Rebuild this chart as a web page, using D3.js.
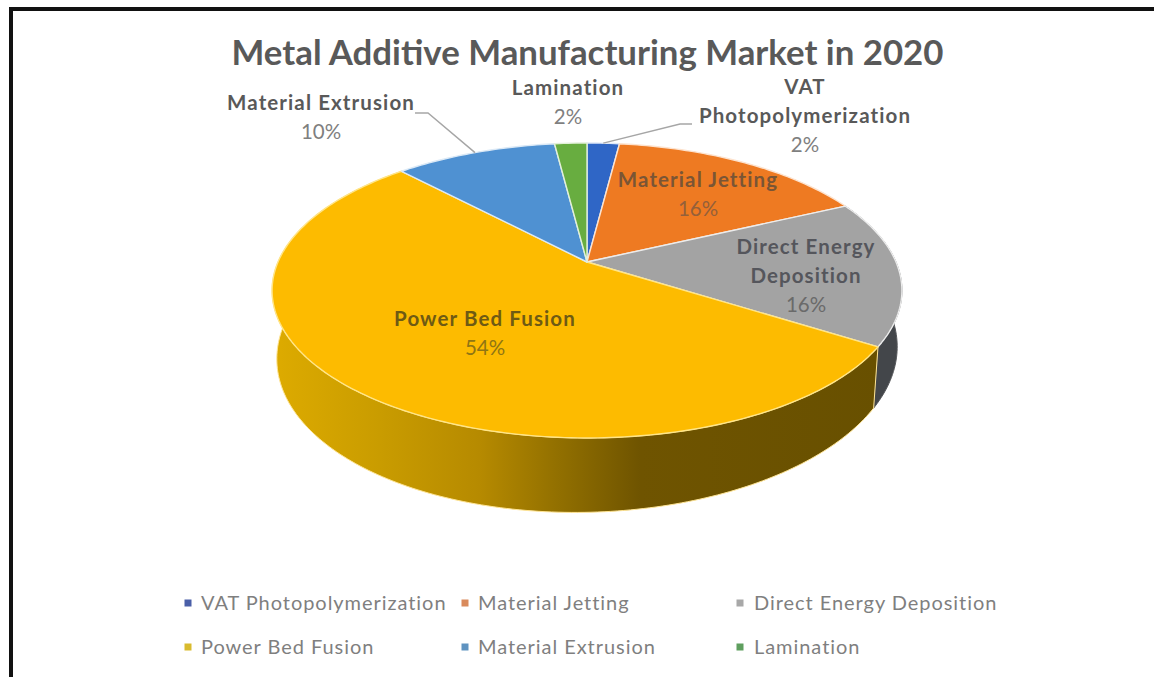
<!DOCTYPE html>
<html>
<head>
<meta charset="utf-8">
<title>Metal Additive Manufacturing Market in 2020</title>
<script src="https://cdn.jsdelivr.net/npm/d3@7/dist/d3.min.js"></script>
<style>
  html, body { margin: 0; padding: 0; background: #fff; }
  svg { display: block; }
  text { font-family: Lato, "Open Sans", sans-serif; }
</style>
</head>
<body>
<script>
const chartTitle = "Metal Additive Manufacturing Market in 2020";
const categories = ["VAT Photopolymerization", "Material Jetting", "Direct Energy Deposition", "Power Bed Fusion", "Material Extrusion", "Lamination"];
const shares = [2, 16, 16, 54, 10, 2];
const sliceColors = ["#2f66c6", "#ee7a22", "#a3a3a3", "#fdbb00", "#4f91d2", "#68ad40"];
const markerColors = ["#4a5fa8", "#d98a5c", "#a8a8a8", "#d9bb2e", "#5f93c0", "#5f9f5f"];
const labelLines = [["VAT", "Photopolymerization"], ["Material Jetting"], ["Direct Energy", "Deposition"], ["Power Bed Fusion"], ["Material Extrusion"], ["Lamination"]];
const nameColors = ["#595959", "#7a5535", "#55565c", "#6e5a14", "#595959", "#595959"];
const shareColors = ["#7f7f7f", "#94603a", "#6a6a6a", "#8f7514", "#7f7f7f", "#7f7f7f"];

const W = 1154, H = 677;
const svg = d3.select("body").append("svg").attr("width", W).attr("height", H);

// Frame along the top and left of the chart area
svg.append("path").attr("d", `M11,${H}V9H${W}`).attr("fill", "none").attr("stroke", "#111").attr("stroke-width", 4);

svg.append("text").attr("x", 587.5).attr("y", 65).attr("text-anchor", "middle")
  .attr("font-size", 34.8).attr("font-weight", 700).attr("fill", "#595959").text(chartTitle);

// Perspective projection of the disc: u runs right, v runs toward the viewer
const cx = 587, cy = 262, rx = 309, ry = 142, persp = 0.193, thick = 60, thickTilt = 6, baseShrink = 0.985;
const project = (a, lift = 0, shrink = 1, r = 1) => {
  const u = r * Math.sin(a), v = -r * Math.cos(a), d = 1 - persp * v;
  const drop = lift ? lift - thickTilt * u : 0;
  return [cx + shrink * rx * u / d, cy + (ry * v + drop) / d];
};
const rimStep = Math.PI / 180;
const arcAngles = (a0, a1) => d3.range(a0, a1, rimStep).concat([a1]);
const line = d3.line();

const pie = d3.pie().sort(null).value(d => d)(shares);

// Wall shading runs left to right across the near side
const defs = svg.append("defs");
const wallStops = [[280, "#dcaa00"], [380, "#c99c00"], [480, "#b68a00"], [560, "#916f00"], [640, "#6f5400"], [880, "#685000"]];
const xShare = d3.scaleLinear().domain([280, 880]).range([0, 1]);
const grad = defs.append("linearGradient").attr("id", "wallYellow").attr("gradientUnits", "userSpaceOnUse")
  .attr("x1", 280).attr("x2", 880).attr("y1", 0).attr("y2", 0);
wallStops.forEach(s => grad.append("stop").attr("offset", xShare(s[0])).attr("stop-color", s[1]));

const walls = [
  { i: 2, fill: "#43464a", stroke: "#55575a" },
  { i: 3, fill: "url(#wallYellow)", stroke: "#ffe596" }
];
walls.forEach(w => {
  const s = pie[w.i];
  const ang = arcAngles(s.startAngle, s.endAngle);
  const pts = ang.map(a => project(a)).concat(ang.slice().reverse().map(a => project(a, thick, baseShrink)));
  svg.append("path").attr("d", line(pts) + "Z").attr("fill", w.fill).attr("stroke", w.stroke).attr("stroke-width", 1);
});

// Top face of each slice
const rimColors = ["#dfe8f7", "#fde3cf", "#ececec", "#ffe588", "#dbe9f6", "#e2f0d9"];
svg.append("g").selectAll("path").data(pie).join("path")
  .attr("d", s => line([project(0, 0, 1, 0)].concat(arcAngles(s.startAngle, s.endAngle).map(a => project(a)))) + "Z")
  .attr("fill", (s, i) => sliceColors[i])
  .attr("stroke", (s, i) => rimColors[i]).attr("stroke-width", 1.4).attr("stroke-linejoin", "round");

// Leader lines for the two labels set away from the pie
const leaders = [
  { i: 4, elbow: [[415, 113], [428, 113]] },
  { i: 0, elbow: [[692, 124], [680, 124]] }
];
leaders.forEach(l => {
  const s = pie[l.i];
  const end = project((s.startAngle + s.endAngle) / 2);
  svg.append("path").attr("d", line(l.elbow.concat([end]))).attr("fill", "none").attr("stroke", "#a6a6a6").attr("stroke-width", 1.4);
});

// Data labels: category in bold, share below it
const labelAnchors = [[805, 94], [698, 187], [806, 254], [485, 326], [321, 110], [568, 95]];
const labelSize = 20.5, labelStep = 29;
labelLines.forEach((rows, i) => {
  const g = svg.append("g").attr("text-anchor", "middle").attr("font-size", labelSize);
  rows.forEach((t, j) => g.append("text").attr("x", labelAnchors[i][0]).attr("y", labelAnchors[i][1] + j * labelStep)
    .attr("font-weight", 700).attr("letter-spacing", 1.1).attr("fill", nameColors[i]).text(t));
  g.append("text").attr("x", labelAnchors[i][0]).attr("y", labelAnchors[i][1] + rows.length * labelStep)
    .attr("fill", shareColors[i]).text(`${shares[i]}%`);
});

// Legend, two rows of three
const markerX = [188, 465, 740], legendTextX = [201, 478, 754], legendY = [603, 647];
categories.forEach((c, i) => {
  const col = i % 3, y = legendY[Math.floor(i / 3)];
  svg.append("rect").attr("x", markerX[col] - 3.5).attr("y", y - 3.5).attr("width", 7).attr("height", 7).attr("fill", markerColors[i]);
  svg.append("text").attr("x", legendTextX[col]).attr("y", y + 7).attr("font-size", 20).attr("letter-spacing", 0.95).attr("fill", "#7f7f7f").text(c);
});
</script>
</body>
</html>
